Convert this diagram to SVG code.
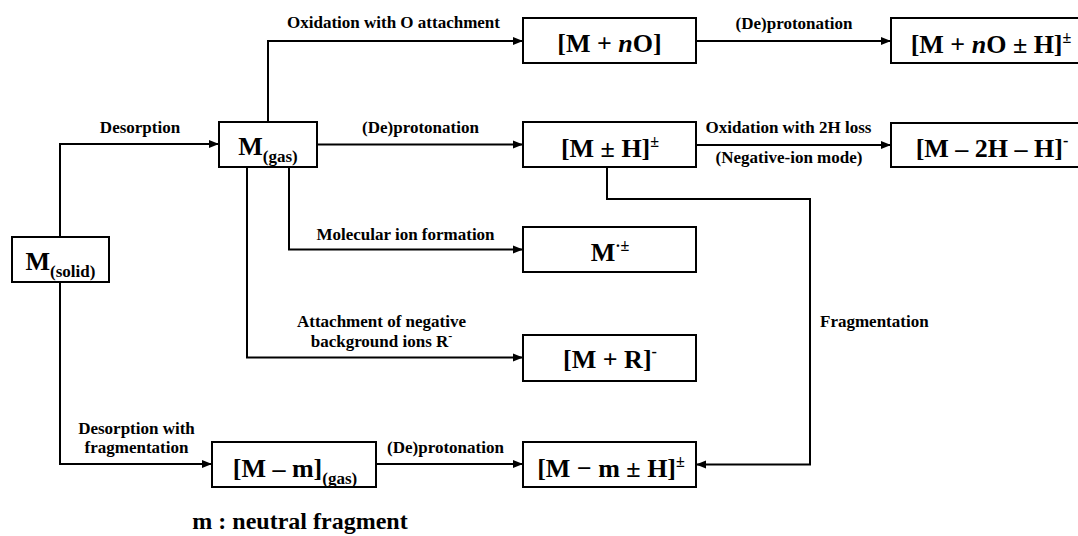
<svg xmlns="http://www.w3.org/2000/svg" width="1078" height="536" viewBox="0 0 1078 536">
<style>
.box{fill:#fff;stroke:#000;stroke-width:2}
text{font-family:'Liberation Serif','Times New Roman','DejaVu Serif',serif;font-weight:bold;fill:#000;text-anchor:middle}
.n{font-size:26px}
.s{font-size:17px}
.l{font-size:17px}
.c{fill:none;stroke:#000;stroke-width:2}
</style>
<defs>
<marker id="a" markerUnits="userSpaceOnUse" markerWidth="11" markerHeight="9" refX="10" refY="4.5" orient="auto">
<path d="M0,0.5 L10,4.5 L0,8.5 z" fill="#000"/>
</marker>
</defs>
<rect width="1078" height="536" fill="#fff"/>
<g id="connectors">
<path class="c" marker-end="url(#a)" d="M60,237 V144 H219"/>
<path class="c" marker-end="url(#a)" d="M268,122 V41 H523"/>
<path class="c" marker-end="url(#a)" d="M317,144.5 H523"/>
<path class="c" marker-end="url(#a)" d="M289,167 V249.5 H523"/>
<path class="c" marker-end="url(#a)" d="M247,167 V357.5 H523"/>
<path class="c" marker-end="url(#a)" d="M60,282 V464 H212"/>
<path class="c" marker-end="url(#a)" d="M376,464 H523"/>
<path class="c" marker-end="url(#a)" d="M696,41 H891"/>
<path class="c" marker-end="url(#a)" d="M696,145 H891"/>
<path class="c" marker-end="url(#a)" d="M607,167 V199 H810 V464.5 H696"/>
<text class="l" x="140" y="133">Desorption</text>
<text class="l" x="393.5" y="28">Oxidation with O attachment</text>
<text class="l" x="420.5" y="133">(De)protonation</text>
<text class="l" x="794" y="29">(De)protonation</text>
<text class="l" x="788.5" y="133">Oxidation with 2H loss</text>
<text class="l" x="789" y="163">(Negative-ion mode)</text>
<text class="l" x="405.5" y="240">Molecular ion formation</text>
<text class="l" x="381.5" y="327">Attachment of negative</text>
<text class="l" x="381.5" y="347">background ions R<tspan style="font-size:12px" dy="-7">-</tspan></text>
<text class="l" x="820" y="327" style="text-anchor:start">Fragmentation</text>
<text class="l" x="136.5" y="434">Desorption with</text>
<text class="l" x="136.5" y="453">fragmentation</text>
<text class="l" x="445.5" y="453">(De)protonation</text>
</g>
<g id="n-solid">
<rect class="box" x="12" y="237" width="97" height="45"/>
<text class="n" x="60.5" y="270">M<tspan class="s" dy="7">(solid)</tspan></text>
</g>
<g id="n-gas">
<rect class="box" x="219" y="122" width="98" height="45"/>
<text class="n" x="268" y="155">M<tspan class="s" dy="7">(gas)</tspan></text>
</g>
<g id="n-nO">
<rect class="box" x="523" y="18" width="173" height="45"/>
<text class="n" x="609.5" y="52">[M + <tspan style="font-style:italic">n</tspan>O]</text>
</g>
<g id="n-nOH">
<rect class="box" x="891" y="18" width="200" height="45"/>
<text class="n" x="991" y="53">[M + <tspan style="font-style:italic">n</tspan>O ± H]<tspan style="font-size:16px" dy="-10">±</tspan></text>
</g>
<g id="n-MH">
<rect class="box" x="523" y="122" width="173" height="45"/>
<text class="n" x="610" y="157">[M ± H]<tspan style="font-size:16px" dy="-10">±</tspan></text>
</g>
<g id="n-2H">
<rect class="box" x="891" y="123" width="200" height="44"/>
<text class="n" x="992" y="157">[M – 2H – H]<tspan style="font-size:16px" dy="-11">-</tspan></text>
</g>
<g id="n-rad">
<rect class="box" x="523" y="227" width="173" height="45"/>
<text class="n" x="610" y="261">M<tspan style="font-size:16px" dy="-10">·±</tspan></text>
</g>
<g id="n-R">
<rect class="box" x="523" y="335" width="173" height="46"/>
<text class="n" x="610" y="368">[M + R]<tspan style="font-size:16px" dy="-11">-</tspan></text>
</g>
<g id="n-mH">
<rect class="box" x="523" y="442" width="173" height="45"/>
<text class="n" x="611" y="477">[M − m ± H]<tspan style="font-size:16px" dy="-10">±</tspan></text>
</g>
<g id="n-mgas">
<rect class="box" x="212" y="442" width="164" height="45"/>
<text class="n" x="295" y="477">[M – m]<tspan class="s" dy="7">(gas)</tspan></text>
</g>
<text x="300" y="529" style="font-size:24px">m : neutral fragment</text>
</svg>
